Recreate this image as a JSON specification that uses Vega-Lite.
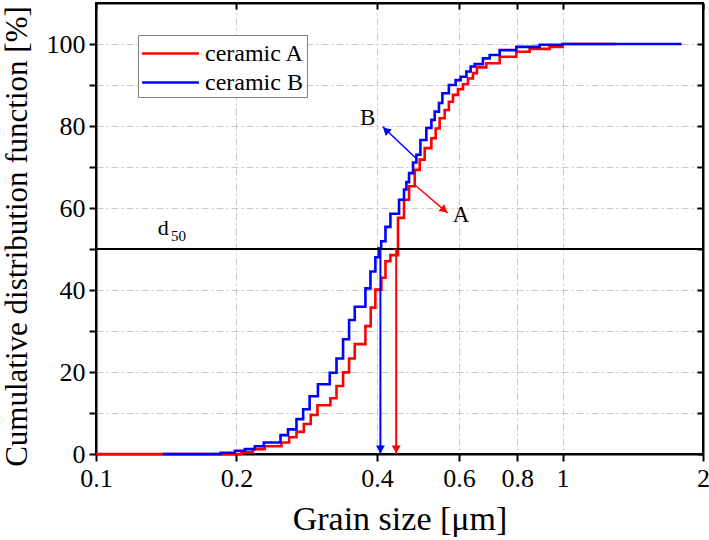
{
  "$schema": "https://vega.github.io/schema/vega-lite/v6.json",
  "width": 607,
  "height": 451,
  "autosize": {"type": "none"},
  "padding": {"left": 96, "top": 3, "right": 6, "bottom": 86},
  "background": "white",
  "config": {
    "view": {"stroke": "black", "strokeWidth": 2},
    "font": "Liberation Serif",
    "style": {
      "guide-label": {"font": "Liberation Serif", "fill": "black"},
      "guide-title": {"font": "Liberation Serif", "fill": "black", "fontWeight": "normal"}
    },
    "axis": {
      "labelFont": "Liberation Serif",
      "titleFont": "Liberation Serif",
      "labelFontSize": 26,
      "titleFontSize": 32,
      "titleFontWeight": "normal",
      "labelColor": "black",
      "titleColor": "black",
      "domainColor": "black",
      "domainWidth": 2,
      "tickColor": "black",
      "tickWidth": 2,
      "tickSize": 7,
      "labelPadding": 4,
      "gridColor": "#c8c8c8",
      "gridDash": [7, 3, 2, 3],
      "gridWidth": 1
    }
  },
  "datasets": {
    "curves": [
      {"x": 0.1, "y": 0, "series": "ceramic A"},
      {"x": 0.205, "y": 0.4, "series": "ceramic A"},
      {"x": 0.2169, "y": 1.2, "series": "ceramic A"},
      {"x": 0.23, "y": 1.9, "series": "ceramic A"},
      {"x": 0.2498, "y": 2.8, "series": "ceramic A"},
      {"x": 0.2594, "y": 4.1, "series": "ceramic A"},
      {"x": 0.269, "y": 5.4, "series": "ceramic A"},
      {"x": 0.2789, "y": 7.3, "series": "ceramic A"},
      {"x": 0.2886, "y": 9.5, "series": "ceramic A"},
      {"x": 0.2983, "y": 11.9, "series": "ceramic A"},
      {"x": 0.318, "y": 13.6, "series": "ceramic A"},
      {"x": 0.3277, "y": 16.6, "series": "ceramic A"},
      {"x": 0.3385, "y": 19.9, "series": "ceramic A"},
      {"x": 0.3487, "y": 23.3, "series": "ceramic A"},
      {"x": 0.3586, "y": 26.8, "series": "ceramic A"},
      {"x": 0.378, "y": 31.2, "series": "ceramic A"},
      {"x": 0.388, "y": 35.7, "series": "ceramic A"},
      {"x": 0.397, "y": 40.1, "series": "ceramic A"},
      {"x": 0.409, "y": 43.0, "series": "ceramic A"},
      {"x": 0.4173, "y": 47.0, "series": "ceramic A"},
      {"x": 0.4276, "y": 48.5, "series": "ceramic A"},
      {"x": 0.4439, "y": 57.6, "series": "ceramic A"},
      {"x": 0.4573, "y": 62.0, "series": "ceramic A"},
      {"x": 0.4688, "y": 65.3, "series": "ceramic A"},
      {"x": 0.4822, "y": 69.3, "series": "ceramic A"},
      {"x": 0.4941, "y": 71.8, "series": "ceramic A"},
      {"x": 0.5064, "y": 74.6, "series": "ceramic A"},
      {"x": 0.5234, "y": 77.0, "series": "ceramic A"},
      {"x": 0.5346, "y": 79.4, "series": "ceramic A"},
      {"x": 0.5452, "y": 81.9, "series": "ceramic A"},
      {"x": 0.5589, "y": 83.9, "series": "ceramic A"},
      {"x": 0.5706, "y": 85.9, "series": "ceramic A"},
      {"x": 0.5823, "y": 87.6, "series": "ceramic A"},
      {"x": 0.5968, "y": 89.0, "series": "ceramic A"},
      {"x": 0.6117, "y": 90.2, "series": "ceramic A"},
      {"x": 0.627, "y": 91.6, "series": "ceramic A"},
      {"x": 0.6427, "y": 92.9, "series": "ceramic A"},
      {"x": 0.6554, "y": 94.3, "series": "ceramic A"},
      {"x": 0.6865, "y": 95.3, "series": "ceramic A"},
      {"x": 0.7332, "y": 96.9, "series": "ceramic A"},
      {"x": 0.796, "y": 98.1, "series": "ceramic A"},
      {"x": 0.85, "y": 98.8, "series": "ceramic A"},
      {"x": 0.938, "y": 99.3, "series": "ceramic A"},
      {"x": 1.0, "y": 100, "series": "ceramic A"},
      {"x": 1.3, "y": 100, "series": "ceramic A"},
      {"x": 0.139, "y": 0, "series": "ceramic B"},
      {"x": 0.185, "y": 0.3, "series": "ceramic B"},
      {"x": 0.1985, "y": 0.8, "series": "ceramic B"},
      {"x": 0.2085, "y": 1.2, "series": "ceramic B"},
      {"x": 0.219, "y": 1.9, "series": "ceramic B"},
      {"x": 0.229, "y": 2.8, "series": "ceramic B"},
      {"x": 0.2486, "y": 4.6, "series": "ceramic B"},
      {"x": 0.258, "y": 6.0, "series": "ceramic B"},
      {"x": 0.269, "y": 8.5, "series": "ceramic B"},
      {"x": 0.278, "y": 10.9, "series": "ceramic B"},
      {"x": 0.287, "y": 14.1, "series": "ceramic B"},
      {"x": 0.299, "y": 17.0, "series": "ceramic B"},
      {"x": 0.317, "y": 19.8, "series": "ceramic B"},
      {"x": 0.3277, "y": 23.3, "series": "ceramic B"},
      {"x": 0.3385, "y": 28.0, "series": "ceramic B"},
      {"x": 0.3487, "y": 32.7, "series": "ceramic B"},
      {"x": 0.3586, "y": 35.9, "series": "ceramic B"},
      {"x": 0.378, "y": 40.4, "series": "ceramic B"},
      {"x": 0.3875, "y": 44.5, "series": "ceramic B"},
      {"x": 0.397, "y": 48.0, "series": "ceramic B"},
      {"x": 0.4036, "y": 50.2, "series": "ceramic B"},
      {"x": 0.4086, "y": 51.9, "series": "ceramic B"},
      {"x": 0.4173, "y": 55.4, "series": "ceramic B"},
      {"x": 0.4276, "y": 58.6, "series": "ceramic B"},
      {"x": 0.4462, "y": 62.0, "series": "ceramic B"},
      {"x": 0.4573, "y": 64.5, "series": "ceramic B"},
      {"x": 0.4627, "y": 66.3, "series": "ceramic B"},
      {"x": 0.4688, "y": 68.5, "series": "ceramic B"},
      {"x": 0.4781, "y": 71.1, "series": "ceramic B"},
      {"x": 0.4861, "y": 73.0, "series": "ceramic B"},
      {"x": 0.4958, "y": 76.6, "series": "ceramic B"},
      {"x": 0.5106, "y": 79.5, "series": "ceramic B"},
      {"x": 0.5234, "y": 81.5, "series": "ceramic B"},
      {"x": 0.532, "y": 83.5, "series": "ceramic B"},
      {"x": 0.5434, "y": 85.6, "series": "ceramic B"},
      {"x": 0.5526, "y": 88.0, "series": "ceramic B"},
      {"x": 0.5706, "y": 90.0, "series": "ceramic B"},
      {"x": 0.59, "y": 91.2, "series": "ceramic B"},
      {"x": 0.6047, "y": 92.0, "series": "ceramic B"},
      {"x": 0.6221, "y": 93.3, "series": "ceramic B"},
      {"x": 0.6353, "y": 94.5, "series": "ceramic B"},
      {"x": 0.6481, "y": 95.1, "series": "ceramic B"},
      {"x": 0.6751, "y": 96.5, "series": "ceramic B"},
      {"x": 0.698, "y": 97.3, "series": "ceramic B"},
      {"x": 0.7332, "y": 98.5, "series": "ceramic B"},
      {"x": 0.796, "y": 99.3, "series": "ceramic B"},
      {"x": 0.893, "y": 99.8, "series": "ceramic B"},
      {"x": 1.0, "y": 100, "series": "ceramic B"},
      {"x": 1.8, "y": 100, "series": "ceramic B"}
    ]
  },
  "layer": [
    {
      "data": {"name": "curves"},
      "mark": {"type": "line", "interpolate": "step-after", "strokeWidth": 2.6},
      "encoding": {
        "x": {
          "field": "x", "type": "quantitative",
          "scale": {"type": "log", "domain": [0.1, 2], "nice": false},
          "axis": {
            "orient": "bottom",
            "values": [0.1, 0.2, 0.4, 0.6, 0.8, 1, 2],
            "format": "~g",
            "labelFlush": false,
            "labelOverlap": false,
            "labelFont": "Liberation Serif",
            "labelFontSize": 26,
            "labelColor": "black",
            "title": "Grain size [μm]",
            "titleFont": "Liberation Serif",
            "titleFontSize": 34,
            "titleFontWeight": "normal",
            "titleColor": "black",
            "titlePadding": 11
          }
        },
        "y": {
          "field": "y", "type": "quantitative",
          "scale": {"domain": [0, 110], "nice": false, "zero": false},
          "axis": {
            "orient": "left",
            "values": [0, 10, 20, 30, 40, 50, 60, 70, 80, 90, 100],
            "labelExpr": "datum.value % 20 == 0 ? datum.label : ''",
            "labelFont": "Liberation Serif",
            "labelFontSize": 26,
            "labelColor": "black",
            "title": "Cumulative distribution function [%]",
            "titleFont": "Liberation Serif",
            "titleFontSize": 31,
            "titleFontWeight": "normal",
            "titleColor": "black",
            "titlePadding": 13,
            "titleY": 233
          }
        },
        "color": {
          "field": "series", "type": "nominal",
          "scale": {"domain": ["ceramic A", "ceramic B"], "range": ["#ff0000", "#0000ff"]},
          "legend": {
            "title": null,
            "orient": "none",
            "legendX": 42,
            "legendY": 32,
            "strokeColor": "#808080",
            "fillColor": "white",
            "padding": 2,
            "symbolType": "M-1.9,0H1.9",
            "symbolSize": 900,
            "symbolOffset": 14,
            "symbolStrokeWidth": 2.5,
            "labelFont": "Liberation Serif",
            "labelFontSize": 24,
            "labelColor": "black",
            "labelOffset": 18,
            "rowPadding": 0
          }
        }
      }
    },
    {
      "data": {"values": [{"y": 50}]},
      "mark": {"type": "rule", "color": "black", "strokeWidth": 2},
      "encoding": {
        "y": {"field": "y", "type": "quantitative", "axis": null}
      }
    },
    {
      "data": {"values": [
        {"x": 0.407, "y": 50, "y2": 0, "series": "ceramic B"},
        {"x": 0.44, "y": 50, "y2": 0, "series": "ceramic A"}
      ]},
      "mark": {"type": "rule", "strokeWidth": 2},
      "encoding": {
        "x": {"field": "x", "type": "quantitative",
          "axis": {"orient": "top", "values": [0.1, 0.2, 0.4, 0.6, 0.8, 1, 2], "labels": false, "title": null, "grid": false, "tickSize": -6}},
        "y": {"field": "y", "type": "quantitative",
          "axis": {"orient": "right", "values": [0, 10, 20, 30, 40, 50, 60, 70, 80, 90, 100], "labels": false, "title": null, "grid": false, "tickSize": -6}},
        "y2": {"field": "y2"},
        "color": {"field": "series", "type": "nominal", "legend": null}
      }
    },
    {
      "data": {"values": [
        {"x": 0.4844, "y": 72.2, "x2": 0.4118, "y2": 79.8, "series": "ceramic B"},
        {"x": 0.4824, "y": 65.6, "x2": 0.567, "y2": 58.8, "series": "ceramic A"}
      ]},
      "mark": {"type": "rule", "strokeWidth": 1.5},
      "encoding": {
        "x": {"field": "x", "type": "quantitative", "axis": null},
        "y": {"field": "y", "type": "quantitative", "axis": null},
        "x2": {"field": "x2"},
        "y2": {"field": "y2"},
        "color": {"field": "series", "type": "nominal", "legend": null}
      }
    },
    {
      "data": {"values": [
        {"x": 0.407, "y": 1.1, "series": "ceramic B"},
        {"x": 0.44, "y": 1.1, "series": "ceramic A"}
      ]},
      "mark": {"type": "point", "shape": "triangle-down", "filled": true, "opacity": 1, "size": 80},
      "encoding": {
        "x": {"field": "x", "type": "quantitative", "axis": null},
        "y": {"field": "y", "type": "quantitative", "axis": null},
        "color": {"field": "series", "type": "nominal", "legend": null}
      }
    },
    {
      "data": {"values": [{"x": 0.4182, "y": 79.0, "series": "ceramic B"}]},
      "mark": {"type": "point", "shape": "triangle-up", "filled": true, "opacity": 1, "size": 80, "angle": 313},
      "encoding": {
        "x": {"field": "x", "type": "quantitative", "axis": null},
        "y": {"field": "y", "type": "quantitative", "axis": null},
        "color": {"field": "series", "type": "nominal", "legend": null}
      }
    },
    {
      "data": {"values": [{"x": 0.558, "y": 59.5, "series": "ceramic A"}]},
      "mark": {"type": "point", "shape": "triangle-up", "filled": true, "opacity": 1, "size": 80, "angle": 130},
      "encoding": {
        "x": {"field": "x", "type": "quantitative", "axis": null},
        "y": {"field": "y", "type": "quantitative", "axis": null},
        "color": {"field": "series", "type": "nominal", "legend": null}
      }
    },
    {
      "data": {"values": [
        {"x": 0.3824, "y": 80.2, "label": "B"},
        {"x": 0.6063, "y": 56.6, "label": "A"}
      ]},
      "mark": {"type": "text", "font": "Liberation Serif", "fontSize": 23, "color": "black", "align": "center", "baseline": "alphabetic"},
      "encoding": {
        "x": {"field": "x", "type": "quantitative", "axis": null},
        "y": {"field": "y", "type": "quantitative", "axis": null},
        "text": {"field": "label"}
      }
    },
    {
      "data": {"values": [{"x": 0.1357, "y": 53.4, "label": "d"}]},
      "mark": {"type": "text", "font": "Liberation Serif", "fontSize": 22, "color": "black", "align": "left", "baseline": "alphabetic"},
      "encoding": {
        "x": {"field": "x", "type": "quantitative", "axis": null},
        "y": {"field": "y", "type": "quantitative", "axis": null},
        "text": {"field": "label"}
      }
    },
    {
      "data": {"values": [{"x": 0.1448, "y": 52.0, "label": "50"}]},
      "mark": {"type": "text", "font": "Liberation Serif", "fontSize": 15, "color": "black", "align": "left", "baseline": "alphabetic"},
      "encoding": {
        "x": {"field": "x", "type": "quantitative", "axis": null},
        "y": {"field": "y", "type": "quantitative", "axis": null},
        "text": {"field": "label"}
      }
    }
  ],
  "resolve": {"axis": {"x": "independent", "y": "independent"}}
}
